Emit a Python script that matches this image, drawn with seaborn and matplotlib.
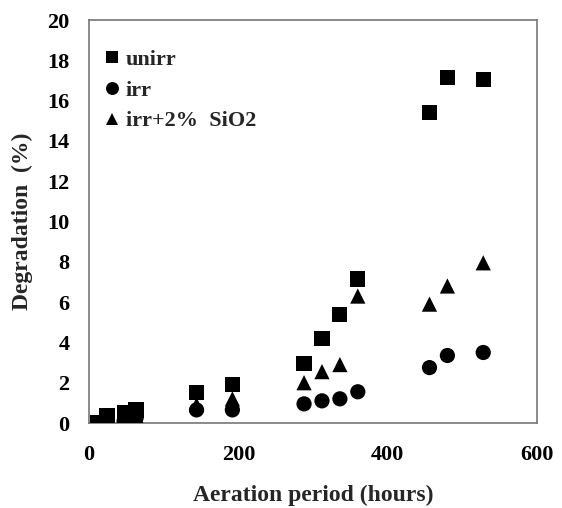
import matplotlib
matplotlib.use("Agg")
import matplotlib.pyplot as plt
import seaborn as sns
import pandas as pd

hours_unirr = [12, 24, 47, 63, 144, 192, 288, 312, 336, 360, 456, 480, 528]
deg_unirr = [0.0, 0.35, 0.5, 0.65, 1.5, 1.9, 2.95, 4.2, 5.4, 7.15, 15.4, 17.15, 17.05]

hours_irr = [12, 24, 47, 63, 144, 192, 288, 312, 336, 360, 456, 480, 528]
deg_irr = [0.0, 0.0, 0.1, 0.25, 0.65, 0.65, 0.95, 1.1, 1.2, 1.55, 2.75, 3.35, 3.5]

hours_sio2 = [12, 24, 47, 63, 144, 192, 288, 312, 336, 360, 456, 480, 528]
deg_sio2 = [0.0, 0.05, 0.15, 0.35, 0.9, 1.2, 2.0, 2.55, 2.9, 6.3, 5.9, 6.8, 7.95]

series_names = ["unirr", "irr", "irr+2%  SiO2"]

df = pd.concat([
    pd.DataFrame({"hours": hours_unirr, "deg": deg_unirr, "series": series_names[0]}),
    pd.DataFrame({"hours": hours_irr, "deg": deg_irr, "series": series_names[1]}),
    pd.DataFrame({"hours": hours_sio2, "deg": deg_sio2, "series": series_names[2]}),
])

sns.set_style("white")
plt.rcParams['font.family'] = ['Liberation Serif', 'DejaVu Serif']
plt.rcParams['font.weight'] = 'bold'

fig = plt.figure(figsize=(5.62, 5.08), dpi=100)
ax = fig.add_axes([0.1584, 0.1673, 0.9555 - 0.1584, 0.9606 - 0.1673])

sns.scatterplot(data=df, x="hours", y="deg", hue="series", style="series",
                hue_order=series_names, style_order=series_names,
                palette=["black"] * 3,
                markers={series_names[0]: "s", series_names[1]: "o", series_names[2]: "^"},
                s=120, edgecolor="none", linewidth=0, ax=ax, zorder=3)

ax.set_xlim(0, 600)
ax.set_ylim(0, 20)
ax.set_xticks([0, 200, 400, 600])
ax.set_yticks(range(0, 21, 2))
ax.tick_params(axis='x', direction='in', length=5, width=1, colors='#555555',
               labelcolor='black', labelsize=16, pad=16)
ax.tick_params(axis='y', direction='out', length=4, width=1, colors='#555555',
               labelcolor='black', labelsize=16, pad=10)
for lab in ax.get_xticklabels() + ax.get_yticklabels():
    lab.set_fontweight('bold')
for sp in ax.spines.values():
    sp.set_color('#777777')
    sp.set_linewidth(1.2)

ax.set_xlabel("Aeration period (hours)", fontsize=17, fontweight='bold', labelpad=14)
ax.set_ylabel("Degradation  (%)", fontsize=17, fontweight='bold', labelpad=10)

leg = ax.legend(loc='upper left', frameon=False, fontsize=16, markerscale=0.85,
                handletextpad=0.05, labelspacing=0.45, borderaxespad=0.3,
                handlelength=1.1, bbox_to_anchor=(-0.01, 0.965))
for t in leg.get_texts():
    t.set_fontweight('bold')

fig.savefig("out.png", dpi=100)
